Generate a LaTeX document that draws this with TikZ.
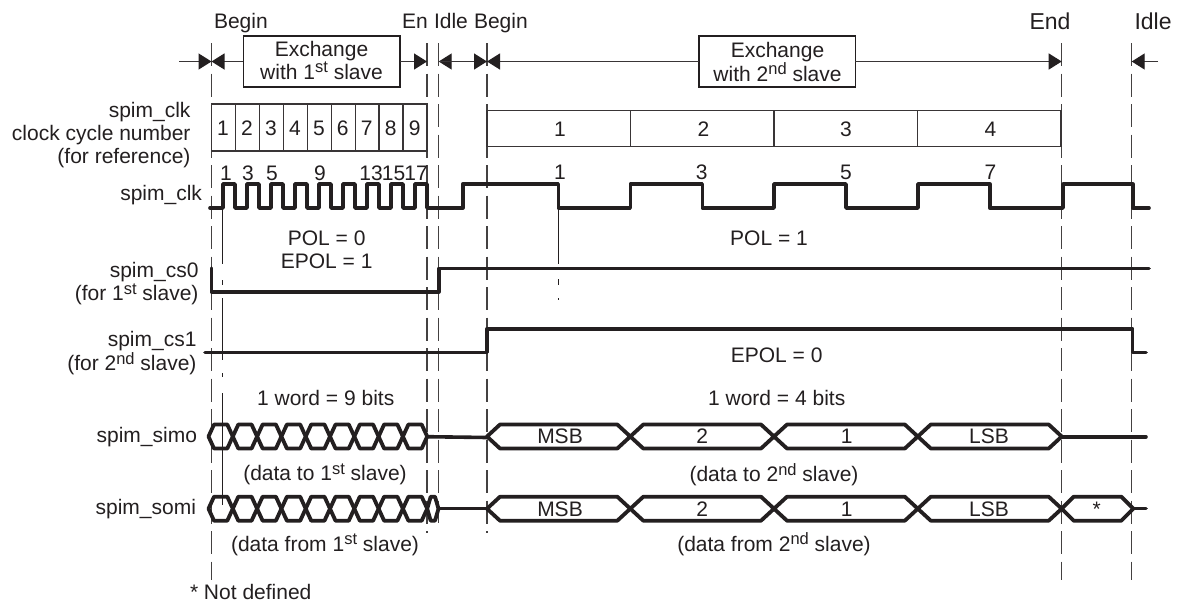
\documentclass[tikz,border=0pt]{standalone}
\usepackage{fontspec}
\setmainfont{Liberation Sans}
\usetikzlibrary{arrows.meta}
\definecolor{ink}{HTML}{231F20}
\newcommand{\fs}{\fontsize{21}{24}\selectfont}
\newcommand{\fsb}{\fontsize{23}{26}\selectfont}
\newcommand{\sups}[1]{\raisebox{6.5pt}{\fontsize{16.5}{17}\selectfont #1}}
\newcommand{\hexcell}[5]{%
  \draw[bus] ({#1},{#4}) -- ({#1+#3},{#4-#5}) -- ({#2-#3},{#4-#5}) -- ({#2},{#4}) -- ({#2-#3},{#4+#5}) -- ({#1+#3},{#4+#5}) -- cycle;}
\tikzset{
  txt/.style={inner sep=0pt,outer sep=0pt,font=\fs,text=ink,anchor=base},
  txtr/.style={txt,anchor=base east},
  txtl/.style={txt,anchor=base west},
  sig/.style={draw=ink,line width=3.6pt,line join=round,line cap=round},
  bus/.style={draw=ink,line width=3.8pt,line join=round,line cap=round},
  guide/.style={draw=ink!85,line width=1.3pt,dash pattern=on 23pt off 7.5pt},
  ticks/.style={draw=ink,line width=1pt},
  tbl/.style={draw=ink!90,line width=1.4pt},
  xbox/.style={draw=ink,line width=1.6pt,fill=white,inner sep=0pt,outer sep=0pt},
  span/.style={draw=ink!90,line width=1.3pt},
  tipr/.style={-{Triangle[length=13pt,width=16pt,color=ink]}},
}
\begin{document}
\begin{tikzpicture}[x=1pt,y=-1pt]
\useasboundingbox[fill=white] (0,0) rectangle (1178,603);
% guides
\draw[guide] (211.5,43) -- (211.5,580);
\draw[guide] (427,43) -- (427,533);
\draw[guide] (438.7,43) -- (438.7,523);
\draw[guide] (487,43) -- (487,533);
\draw[guide] (1061.7,43) -- (1061.7,580);
\draw[guide] (1131.7,43) -- (1131.7,580);
% reference lines
\draw[ticks] (222,208) -- (222,264) (222,280) -- (222,285) (222,298) -- (222,360) (222,373) -- (222,377) (222,393) -- (222,505);
\draw[ticks] (558.3,208) -- (558.3,264) (558.3,279) -- (558.3,285) (558.3,298) -- (558.3,300);
% phase labels
\node[txtl] (tBegA) at (214,28.3) {Begin};
\node[txtl] (tEn) at (402,28.3) {En};
\node[txtl] (tIdleA) at (434,28.3) {Idle};
\node[txtl] (tBegB) at (474,28.3) {Begin};
\node[txtl,font=\fsb] (tEnd) at (1029.5,29.5) {End};
\node[txtl,font=\fsb] (tIdleB) at (1134.5,29.5) {Idle};
% exchange boxes
\node[xbox,minimum width=156.4pt,minimum height=51pt] (boxA) at (321.5,61.5) {};
\node[xbox,minimum width=156.6pt,minimum height=51pt] (boxB) at (777,61.5) {};
\node[txt] (exA1) at (321.5,56) {Exchange};
\node[txt] (exA2) at (321.5,79.3) {with 1\sups{st} slave};
\node[txt] (exB1) at (777.5,57.3) {Exchange};
\node[txt] (exB2) at (777.5,81.2) {with 2\sups{nd} slave};
% span arrows
\coordinate (f0) at (179,61.5);
\coordinate (fa) at (211.5,61.5);
\coordinate (fb) at (427,61.5);
\coordinate (fc) at (438.7,61.5);
\coordinate (fd) at (487,61.5);
\coordinate (fe) at (1061.7,61.5);
\coordinate (ff) at (1131.7,61.5);
\coordinate (f1) at (1158,61.5);
\draw[span,tipr] (f0) -- (fa);
\draw[span,tipr] (boxA.west) -- (fa);
\draw[span,tipr] (boxA.east) -- (fb);
\draw[span,tipr] (fd) -- (fc);
\draw[span,tipr] (fc) -- (fd);
\draw[span,tipr] (boxB.west) -- (fd);
\draw[span,tipr] (boxB.east) -- (fe);
\draw[span,tipr] (f1) -- (ff);
% left labels
\node[txtr] (l1) at (190.5,117.3) {spim\_clk};
\node[txtr] (l2) at (190.5,140) {clock cycle number};
\node[txtr] (l3) at (190.5,163) {(for reference)};
\node[txtr] (l4) at (202,200) {spim\_clk};
\node[txtr] (l5) at (198.5,277.3) {spim\_cs0};
\node[txtr] (l6) at (198.5,300.7) {(for 1\sups{st} slave)};
\node[txtr] (l7) at (196.5,346.7) {spim\_cs1};
\node[txtr] (l8) at (196.5,370.7) {(for 2\sups{nd} slave)};
\node[txtr] (l9) at (197,442.7) {spim\_simo};
\node[txtr] (l10) at (196,514) {spim\_somi};
% cycle tables
\draw[tbl] (211.5,104) rectangle (427,151);
\foreach \k in {1,...,8} \draw[tbl] ({211.5+23.95*\k},104) -- ({211.5+23.95*\k},151);
\foreach \k in {1,...,9} \node[txt] (ca\k) at ({211.5+23.95*\k-12.4},135) {\k};
\draw[tbl] (487,110.7) rectangle (1061,146.7);
\foreach \x in {630.3,774,917.5} \draw[tbl] (\x,110.7) -- (\x,146.7);
\node[txt] (cb1) at (560,136.7) {1};
\node[txt] (cb2) at (703.5,136.7) {2};
\node[txt] (cb3) at (846,136.7) {3};
\node[txt] (cb4) at (990.5,136.7) {4};
% edge numbers
\node[txt] (n1) at (226,180) {1};
\node[txt] (n3) at (248,180) {3};
\node[txt] (n5) at (272,180) {5};
\node[txt] (n9) at (320,180) {9};
\node[txt] (n13) at (371,180) {13};
\node[txt] (n15) at (393.5,180) {15};
\node[txt] (n17) at (416,180) {17};
\node[txt] (m1) at (560,179.5) {1};
\node[txt] (m3) at (701.7,179.5) {3};
\node[txt] (m5) at (846,179.5) {5};
\node[txt] (m7) at (990.5,179.5) {7};
% clock
\draw[sig] (210,208) -- (223,208)
  \foreach \k in {0,...,8} { -- ({223+24*\k},208) -- ({223+24*\k},184) -- ({235+24*\k},184) -- ({235+24*\k},208) }
  -- (462.7,208) -- (462.7,184) -- (558.3,184) -- (558.3,208) -- (630.3,208) -- (630.3,184)
  -- (702.3,184) -- (702.3,208) -- (774,208) -- (774,184) -- (846,184) -- (846,208)
  -- (918,208) -- (918,184) -- (989.7,184) -- (989.7,208) -- (1063,208) -- (1063,184)
  -- (1132.7,184) -- (1132.7,208) -- (1149,208);
% chip selects
\draw[sig] (211.5,268) -- (211.5,291.7) -- (438.7,291.7) -- (438.7,268.5) -- (1149,268.5);
\draw[sig] (205,352.3) -- (487,352.3) -- (487,328.7) -- (1132.5,328.7) -- (1132.5,352.3) -- (1146,352.3);
% texts between
\node[txt] (p0) at (326.7,245) {POL = 0};
\node[txt] (e1) at (326.7,268.3) {EPOL = 1};
\node[txt] (p1) at (769,245) {POL = 1};
\node[txt] (e0) at (776.7,362) {EPOL = 0};
\node[txt] (w9) at (325.7,405) {1 word = 9 bits};
\node[txt] (w4) at (776.7,405) {1 word = 4 bits};
\node[txt] (d1) at (325,480.7) {(data to 1\sups{st} slave)};
\node[txt] (d2) at (774,481.5) {(data to 2\sups{nd} slave)};
\node[txt] (d3) at (325,551) {(data from 1\sups{st} slave)};
\node[txt] (d4) at (774,551) {(data from 2\sups{nd} slave)};
\node[txtl] (nd) at (190,599.3) {* Not defined};
% simo
\foreach \k in {0,...,8} {\hexcell{208.5+24.3*\k}{208.5+24.3*(\k+1)}{5.5}{436.5}{12}}
\draw[sig] (427,436.7) -- (487,437.5);
\hexcell{487}{630.3}{13}{436.5}{12}
\hexcell{630.3}{774}{13}{436.5}{12}
\hexcell{774}{917.8}{13}{436.5}{12}
\hexcell{917.8}{1061.7}{13}{436.5}{12}
\draw[sig] (1061.7,436.7) -- (1146,436.7);
\node[txt] (sa) at (560,443.8) {MSB};
\node[txt] (sb) at (702.3,443.8) {2};
\node[txt] (sc) at (846.7,443.8) {1};
\node[txt] (sd) at (989,443.8) {LSB};
% somi
\foreach \k in {0,...,8} {\hexcell{208.5+24.3*\k}{208.5+24.3*(\k+1)}{5.5}{508.7}{12}}
\hexcell{427.2}{438.5}{3.5}{508.7}{12}
\draw[sig] (438.5,508.5) -- (487,508.5);
\hexcell{487}{630.3}{13}{508.7}{12}
\hexcell{630.3}{774}{13}{508.7}{12}
\hexcell{774}{917.8}{13}{508.7}{12}
\hexcell{917.8}{1061.7}{13}{508.7}{12}
\hexcell{1061.7}{1133.3}{12}{508.7}{12}
\draw[sig] (1133.3,508.5) -- (1146,508.5);
\node[txt] (ta) at (560,516) {MSB};
\node[txt] (tb) at (702.3,516) {2};
\node[txt] (tc) at (846.7,516) {1};
\node[txt] (td) at (989,516) {LSB};
\node[txt] (te) at (1096.7,516) {*};
\end{tikzpicture}
\end{document}
